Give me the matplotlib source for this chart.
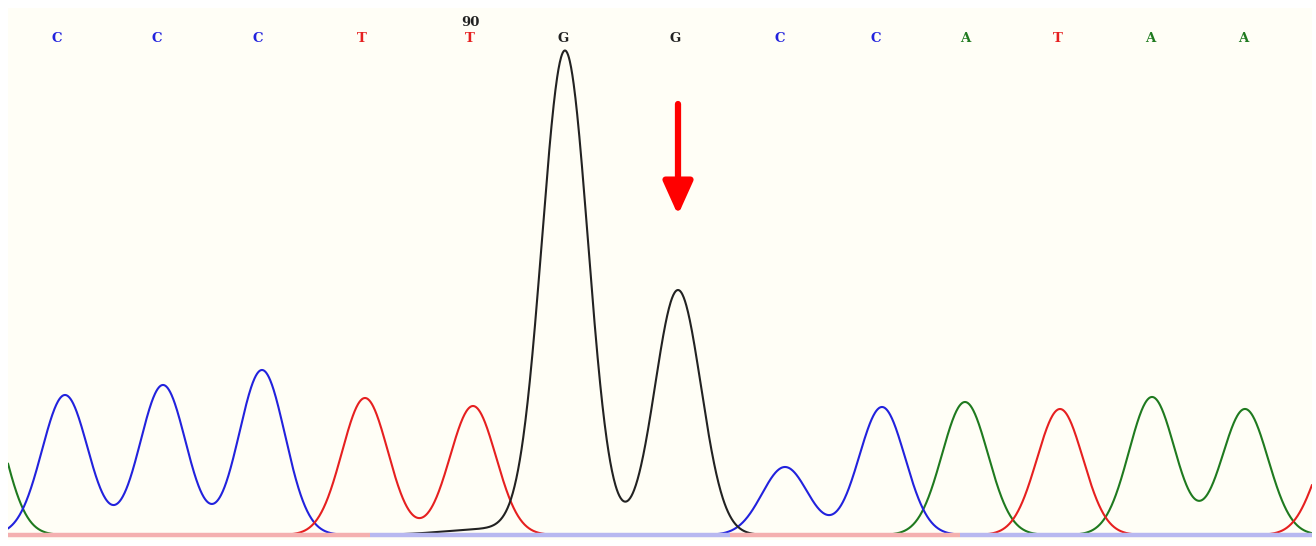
import numpy as np
import matplotlib
matplotlib.use("Agg")
import matplotlib.pyplot as plt

# ---- data (scan position, peak height) ----
base_calls = ["C", "C", "C", "T", "T", "G", "G", "C", "C", "A", "T", "A", "A"]
call_pos = [57, 157, 258, 362, 470, 563, 675, 780, 876, 965, 1058, 1150, 1243]
numbered_index = 4
numbered_label = "90"

A_pos = [-20, 965, 1152, 1245]
A_amp = [150, 133, 138, 126]
C_pos = [65, 163, 262, 785, 882]
C_amp = [140, 150, 165, 68, 128]
G_pos = [490, 565, 678]
G_amp = [6, 483, 245]
G_sig = [45, 23, 23]
T_pos = [365, 473, 1060, 1340]
T_amp = [137, 129, 126, 105]

mutation_pos = 678

colors = {"A": "#1f7a1f", "C": "#2222dd", "G": "#222222", "T": "#e62020"}

W, H = 1316, 546
fig = plt.figure(figsize=(W / 100, H / 100), dpi=100, facecolor="white")
x0, x1 = 8, 1312
ytop, ybot = 8, 540
ax = fig.add_axes([x0 / W, (H - ybot) / H, (x1 - x0) / W, (ybot - ytop) / H])
ax.set_facecolor("#fffef6")
ax.set_xlim(x0, x1)
baseline_px = 535
ax.set_ylim(baseline_px - ybot, baseline_px - ytop)
for s in ax.spines.values():
    s.set_visible(False)
ax.set_xticks([])
ax.set_yticks([])

x = np.linspace(x0, x1, 3000)


def trace(pos, amp, sig=None):
    y = np.zeros_like(x)
    for i, (p, a) in enumerate(zip(pos, amp)):
        s = 23 if sig is None else sig[i]
        y += a * np.exp(-(x - p) ** 2 / (2 * s * s))
    return y


traces = {
    "A": trace(A_pos, A_amp),
    "C": trace(C_pos, C_amp),
    "T": trace(T_pos, T_amp),
    "G": trace(G_pos, G_amp, G_sig),
}

for k in ["A", "C", "T", "G"]:
    ax.plot(x, traces[k], color=colors[k], lw=1.5, solid_capstyle="round")

# baseline band
ax.plot([x0, 370], [0, 0], color="#f4b0b0", lw=3.2, solid_capstyle="butt")
ax.plot([370, 730], [0, 0], color="#b8b8f0", lw=3.2, solid_capstyle="butt")
ax.plot([730, 960], [0, 0], color="#f4b0b0", lw=3.2, solid_capstyle="butt")
ax.plot([960, x1], [0, 0], color="#b8b8f0", lw=3.2, solid_capstyle="butt")

# base calls
for i, (b, p) in enumerate(zip(base_calls, call_pos)):
    ax.text(p, baseline_px - 38, b, color=colors[b], ha="center", va="center",
            fontsize=9.5, fontweight="bold", family="DejaVu Serif")
    if i == numbered_index:
        ax.text(p, baseline_px - 22, numbered_label, color="#222222", ha="center",
                va="center", fontsize=9.5, fontweight="bold", family="DejaVu Serif")

# mutation arrow
ax.annotate("", xy=(mutation_pos, baseline_px - 215), xytext=(mutation_pos, baseline_px - 104),
            arrowprops=dict(arrowstyle="-|>,head_length=2.0,head_width=0.9",
                            color="#ff0000", lw=4.5, shrinkA=0, shrinkB=0))

fig.savefig("out.png", dpi=100, facecolor="white")
